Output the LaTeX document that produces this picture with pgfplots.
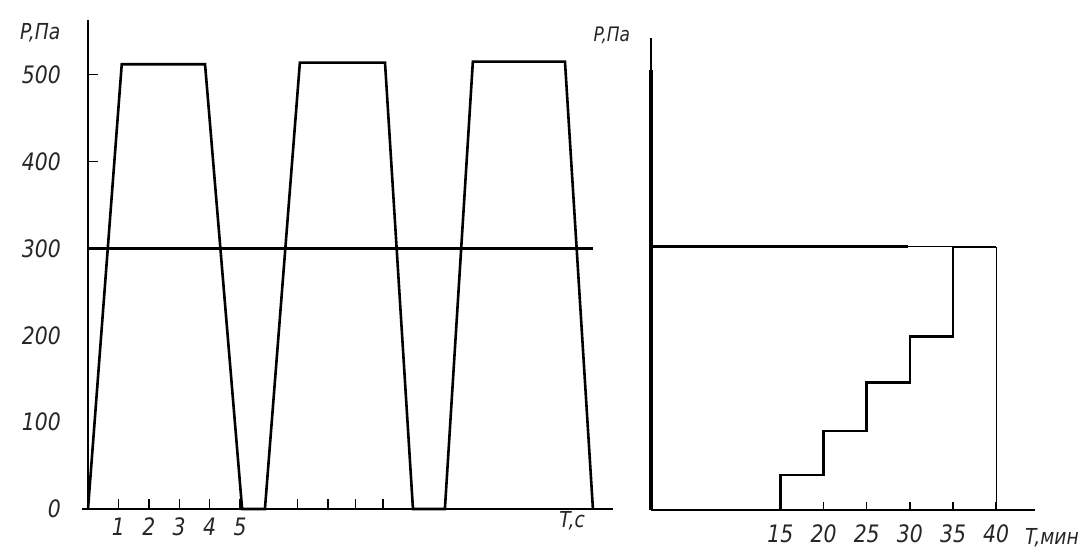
\documentclass[border=0pt]{standalone}
\usepackage{fontspec}
\setmainfont{DejaVu Sans}[FakeStretch=0.85]
\usepackage{pgfplots}
\pgfplotsset{compat=1.18}

\newcommand{\lblfont}{\fontsize{11}{13}\selectfont\itshape}
\pgfplotsset{
  panel/.style={
    axis lines=left,
    axis line style={-, black},
    scale only axis,
    anchor=south west,
    clip=false,
    tick align=inside,
    tick style={draw=black, line width=0.7pt},
    major tick length=5pt,
    ticklabel style={font=\fontsize{12}{14}\selectfont\itshape, text=black!85},
    /pgf/number format/assume math mode=true,
  },
}

\begin{document}
\begin{tikzpicture}
\path[use as bounding box] (0,0) rectangle (543pt,276.5pt);

% left: pressure pulses, seconds
\begin{axis}[panel,
    at={(44pt,22pt)}, width=262.5pt, height=244.5pt,
    xmin=0, xmax=17.27, ymin=0, ymax=563,
    y axis line style={line width=0.7pt},
    ytick={400,500},
    extra y ticks={0,100,200,300},
    extra y tick style={major tick length=0pt},
    yticklabel style={xshift=-10pt},
    xtick={1,2,3,4,5,6.9,7.9,8.8,9.7},
    xticklabels={1,2,3,4,5,,,,},
    xticklabel style={yshift=-1pt},
    xlabel={T,c}, ylabel={P,Па},
    every axis x label/.style={at={(axis description cs:0.922,-0.025)}, anchor=center, font=\lblfont, text=black!85},
    every axis y label/.style={at={(axis description cs:-0.091,0.973)}, anchor=center, font=\lblfont, text=black!85},
  ]
  \addplot[black, line width=1.3pt] coordinates {(-0.2,0) (17.27,0)};
  \addplot[black, line width=1.3pt] coordinates {
    (0,0) (1.11,512) (3.85,512) (5.07,0) (5.82,0)
    (6.97,514) (9.77,514) (10.69,0) (11.74,0)
    (12.66,515) (15.69,515) (16.61,0)
  };
  \addplot[black, line width=1.6pt] coordinates {(0,300) (16.61,300)};
\end{axis}

% right: stepwise rise, minutes
\begin{axis}[panel,
    at={(325.5pt,21.5pt)}, width=192pt, height=236pt,
    xmin=0, xmax=44.5, ymin=0, ymax=538,
    y axis line style={line width=0.7pt},
    ytick=\empty,
    xtick={15,20,25,30,35,40}, major tick length=4pt,
    xticklabel style={yshift=-4pt},
    xlabel={T,мин}, ylabel={P,Па},
    every axis x label/.style={at={(axis description cs:1.044,-0.059)}, anchor=center, font=\lblfont, text=black!85},
    every axis y label/.style={at={(axis description cs:-0.102,1.006)}, anchor=center, font=\fontsize{10}{12}\selectfont\itshape, text=black!85},
  ]
  \addplot[black, line width=1.3pt] coordinates {(0,0) (44.5,0)};
  \addplot[black, line width=1.6pt] coordinates {(0,0) (0,502)};
  \addplot[black, line width=1.5pt] coordinates {(0,300) (29.8,300)};
  \addplot[black, line width=0.6pt] coordinates {(29.8,300) (35,300)};
  \addplot[black, line width=1.3pt] coordinates {
    (15,0) (15,40) (20,40) (20,90) (25,90) (25,145)
    (30,145) (30,198) (35,198) (35,300) (40,300)
  };
  \addplot[black, line width=0.6pt] coordinates {(40,300) (40,0)};
\end{axis}
\end{tikzpicture}
\end{document}
